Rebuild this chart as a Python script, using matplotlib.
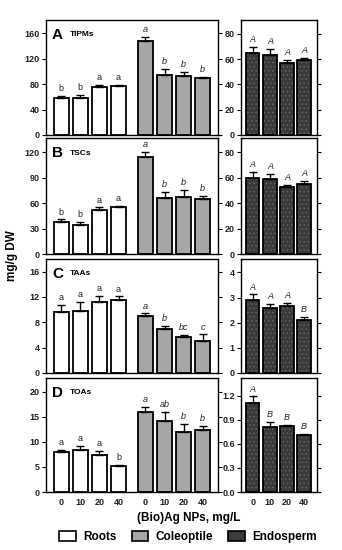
import numpy as np
import matplotlib
matplotlib.use("Agg")
import matplotlib.pyplot as plt
from matplotlib.patches import Patch

plt.rcParams['font.family'] = ['Liberation Sans', 'DejaVu Sans']
plt.rcParams['hatch.linewidth'] = 0.5

doses = ["0", "10", "20", "40"]
panels = ["A", "B", "C", "D"]
traits = ["TIPMs", "TSCs", "TAAs", "TOAs"]

# roots
roots_mean = [[59, 58, 76, 77], [37.8, 34, 52, 55.7], [9.6, 9.85, 11.2, 11.6], [7.9, 8.3, 7.3, 5.15]]
roots_err = [[2, 5, 3, 1.5], [3, 4, 3, 1.5], [1.15, 1.4, 1.0, 0.5], [0.5, 0.9, 0.85, 0.3]]
roots_let = [["b", "b", "a", "a"], ["b", "b", "a", "a"], ["a", "a", "a", "a"], ["a", "a", "a", "b"]]

# coleoptile
coleo_mean = [[148, 95, 93, 89], [115, 66, 67.5, 64.5], [8.95, 7.0, 5.7, 5.0], [15.9, 14.2, 12.0, 12.4]]
coleo_err = [[7, 9, 6, 2], [5, 7, 8, 4], [0.45, 0.5, 0.25, 1.1], [1.05, 1.7, 1.5, 0.8]]
coleo_let = [["a", "b", "b", "b"], ["a", "b", "b", "b"], ["a", "b", "bc", "c"], ["a", "ab", "b", "b"]]

# endosperm
endo_mean = [[65, 63.5, 57, 59], [59.7, 59, 52.3, 55], [2.9, 2.59, 2.67, 2.12], [1.11, 0.805, 0.825, 0.71]]
endo_err = [[5, 4.5, 2.5, 2], [5, 4, 2, 2.5], [0.22, 0.17, 0.13, 0.12], [0.08, 0.07, 0.01, 0.015]]
endo_let = [["A", "A", "A", "A"], ["A", "A", "A", "A"], ["A", "A", "A", "B"], ["A", "B", "B", "B"]]

left_ylim = [181, 137, 18, 22.7]
left_ticks = [np.arange(0, 161, 40), np.arange(0, 121, 30), np.arange(0, 17, 4), np.arange(0, 21, 5)]
right_ylim = [91, 91, 4.53, 1.42]
right_ticks = [np.arange(0, 81, 20), np.arange(0, 81, 20), np.arange(0, 5, 1), np.arange(0, 1.21, 0.3)]

W, H = 342, 550
fig = plt.figure(figsize=(W / 100, H / 100), dpi=100)

rows = [(20, 135), (138, 254), (259, 373), (378, 492)]
roots_x = np.arange(4)
coleo_x = np.arange(4) + 4.4
endo_x = np.arange(4)
bw = 0.77
endo_fc = '#3a3a3a'
endo_hc = '#6a6a6a'


def style(ax, ylim, ticks, fmt=None):
    ax.set_ylim(0, ylim)
    ax.set_yticks(ticks)
    if fmt:
        ax.set_yticklabels([fmt.format(t) for t in ticks])
    ax.tick_params(axis='y', which='both', direction='out', length=3, width=0.8,
                   labelsize=6.5, pad=1.5, right=True)
    for lab in ax.get_yticklabels():
        lab.set_fontweight('bold')
        lab.set_color('#222222')
    ax.tick_params(axis='x', length=0, labelsize=6.5, pad=4)
    for s in ax.spines.values():
        s.set_linewidth(1.0)


def bars(ax, x, mean, err, let, fc, hatch=None, italic=True, ylim=1):
    if hatch:
        # texture drawn first in a lighter tone, outline drawn on top
        ax.bar(x, mean, width=bw, color=fc, edgecolor=endo_hc, linewidth=0, hatch=hatch, zorder=2)
        ax.bar(x, mean, width=bw, facecolor='none', edgecolor='black', linewidth=1.3, zorder=2)
    else:
        ax.bar(x, mean, width=bw, color=fc, edgecolor='black', linewidth=1.3, zorder=2)
    ax.errorbar(x, mean, yerr=[np.zeros(4), err], fmt='none', ecolor='black',
                elinewidth=1.0, capsize=3, capthick=1.0, zorder=3)
    for xi, m, e, l in zip(x, mean, err, let):
        ax.text(xi, m + e + ylim * 0.025, l, ha='center', va='bottom', fontsize=6.5,
                style='italic' if italic else 'normal', color='#222222')


for i in range(4):
    y0, y1 = rows[i]
    axl = fig.add_axes([46 / W, 1 - y1 / H, 172 / W, (y1 - y0) / H])
    axr = fig.add_axes([241 / W, 1 - y1 / H, 76 / W, (y1 - y0) / H])

    bars(axl, roots_x, roots_mean[i], roots_err[i], roots_let[i], 'white', italic=False, ylim=left_ylim[i])
    bars(axl, coleo_x, coleo_mean[i], coleo_err[i], coleo_let[i], '#a6a6a6', ylim=left_ylim[i])
    bars(axr, endo_x, endo_mean[i], endo_err[i], endo_let[i], endo_fc, hatch='....', ylim=right_ylim[i])

    axl.set_xlim(-0.79, 8.19)
    axr.set_xlim(-0.7, 3.76)
    style(axl, left_ylim[i], left_ticks[i])
    style(axr, right_ylim[i], right_ticks[i], fmt='{:.1f}' if i == 3 else '{:.0f}')

    axl.text(0.035, 0.93, panels[i], transform=axl.transAxes, fontsize=11, fontweight='bold',
             ha='left', va='top')
    axl.text(0.14, 0.9, traits[i], transform=axl.transAxes, fontsize=6, fontweight='bold',
             ha='left', va='top')

    if i == 3:
        axl.set_xticks(np.concatenate([roots_x, coleo_x]))
        axl.set_xticklabels(doses + doses, fontweight='bold', color='#222222')
        axr.set_xticks(endo_x)
        axr.set_xticklabels(doses, fontweight='bold', color='#222222')
    else:
        axl.set_xticks([])
        axr.set_xticks([])

fig.text(12 / W, 1 - 256 / H, "mg/g DW", rotation=90, ha='center', va='center',
         fontsize=8.5, fontweight='bold')
fig.text(189 / W, 1 - 518 / H, "(Bio)Ag NPs, mg/L", ha='center', va='center',
         fontsize=8.5, fontweight='bold')

handles = [Patch(facecolor='white', edgecolor='black', linewidth=1.2),
           Patch(facecolor='#a6a6a6', edgecolor='black', linewidth=1.2),
           Patch(facecolor=endo_fc, edgecolor='black', linewidth=1.2)]
fig.legend(handles, ["Roots", "Coleoptile", "Endosperm"], loc='center',
           bbox_to_anchor=(188 / W, 1 - 537 / H), ncol=3, frameon=False,
           prop={'size': 8.5, 'weight': 'bold'}, handlelength=1.4, handleheight=0.9,
           columnspacing=1.3, handletextpad=0.6)

fig.savefig("out.png", dpi=100)
